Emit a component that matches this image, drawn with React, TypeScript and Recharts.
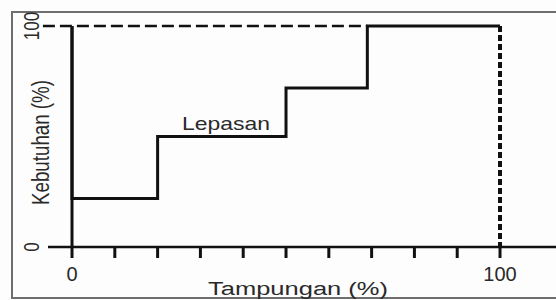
import { ComposedChart, Line, ReferenceDot, ReferenceLine, XAxis, YAxis } from "recharts";

// step curve "Lepasan": storage (%) vs release (%)
const storagePct = [0, 0, 20, 20, 50, 50, 69, 69, 100];
const releasePct = [100, 22, 22, 50, 50, 72, 72, 100, 100];

const xTicks = [0, 10, 20, 30, 40, 50, 60, 70, 80, 90, 100];
const xLabelled = [0, 100];
const yTicks = [0, 100];

const demandLevel = 100;
const dashedUntil = 69;
const capacity = 100;

const rows = storagePct.map((x, i) => ({ x, y: releasePct[i] }));

const ink = "#111";
const textInk = "#2a2a2a";
const font = "Liberation Sans, Arial, sans-serif";

function XTick(props: any) {
  const { x, y, payload } = props;
  if (!xLabelled.includes(payload.value)) return <g />;
  return (
    <text x={x} y={y + 21} textAnchor="middle" fontSize={20} fill={textInk} fontFamily={font}>
      {payload.value}
    </text>
  );
}

function YTick(props: any) {
  const { x, y, payload } = props;
  return (
    <text
      transform={`translate(${x},${y}) rotate(-90) scale(1,1.35)`}
      textAnchor="middle"
      dy="0.36em"
      fontSize={17}
      fill={textInk}
      fontFamily={font}
    >
      {payload.value}
    </text>
  );
}

export default function App() {
  return (
    <div
      style={{
        position: "fixed",
        left: 0,
        top: 0,
        width: 556,
        height: 300,
        overflow: "hidden",
        background: "#fdfdfd",
      }}
    >
      <div
        style={{
          position: "absolute",
          left: 11,
          top: 11,
          width: 620,
          height: 284,
          border: "2px solid #6e6e6e",
        }}
      />
      <ComposedChart
        width={556}
        height={300}
        data={rows}
        margin={{ top: 26, right: 0, bottom: 0, left: 0 }}
        style={{ position: "absolute", left: 0, top: 0 }}
      >
        <XAxis
          dataKey="x"
          type="number"
          domain={[-5.61, 113.08]}
          ticks={xTicks}
          interval={0}
          allowDataOverflow
          height={53}
          tickSize={11}
          tickMargin={2}
          axisLine={{ stroke: ink, strokeWidth: 2.5 }}
          tickLine={{ stroke: ink, strokeWidth: 3 }}
          tick={XTick}
          label={{
            content: (p: any) => {
              const vb = p.viewBox;
              return (
                <text
                  x={vb.x + vb.width / 2 - 4}
                  y={vb.y + 48}
                  textAnchor="middle"
                  fontSize={18}
                  fill={textInk}
                  fontFamily={font}
                  textLength={180}
                  lengthAdjust="spacingAndGlyphs"
                >
                  Tampungan (%)
                </text>
              );
            },
          }}
        />
        <YAxis
          type="number"
          domain={[0, 100]}
          ticks={yTicks}
          width={48}
          axisLine={false}
          tickLine={false}
          tickSize={0}
          tickMargin={17}
          tick={YTick}
          label={{
            content: (p: any) => {
              const vb = p.viewBox;
              const cy = vb.y + vb.height / 2 + 6;
              return (
                <text
                  transform={`translate(40,${cy}) rotate(-90) scale(1,1.4)`}
                  textAnchor="middle"
                  dy="0.36em"
                  fontSize={17}
                  fill={textInk}
                  fontFamily={font}
                  textLength={125}
                  lengthAdjust="spacingAndGlyphs"
                >
                  Kebutuhan (%)
                </text>
              );
            },
          }}
        />
        <ReferenceLine x={0} stroke={ink} strokeWidth={3} />
        <ReferenceLine
          segment={[
            { x: -6.8, y: demandLevel },
            { x: dashedUntil, y: demandLevel },
          ]}
          stroke={ink}
          strokeWidth={2.5}
          strokeDasharray="12 5"
          ifOverflow="visible"
        />
        <ReferenceLine
          segment={[
            { x: capacity, y: demandLevel },
            { x: capacity, y: 0 },
          ]}
          stroke={ink}
          strokeWidth={4}
          strokeDasharray="6 3"
        />
        <Line
          dataKey="y"
          type="linear"
          stroke={ink}
          strokeWidth={3}
          dot={false}
          activeDot={false}
          isAnimationActive={false}
        />
        <ReferenceDot
          x={36}
          y={53}
          r={1}
          fill="none"
          stroke="none"
          label={{
            content: (p: any) => {
              const vb = p.viewBox;
              return (
                <text
                  x={vb.x + vb.width / 2}
                  y={vb.y + vb.height / 2}
                  textAnchor="middle"
                  fontSize={19}
                  fill={textInk}
                  fontFamily={font}
                  textLength={88}
                  lengthAdjust="spacingAndGlyphs"
                >
                  Lepasan
                </text>
              );
            },
          }}
        />
      </ComposedChart>
    </div>
  );
}
